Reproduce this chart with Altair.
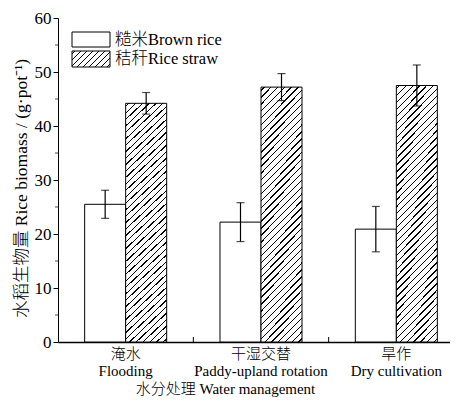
import altair as alt
import pandas as pd

# ---------------- data ----------------
groups_cn = ["淹水", "干湿交替", "旱作"]
groups_en = ["Flooding", "Paddy-upland rotation", "Dry cultivation"]
series = ["糙米Brown rice", "秸秆Rice straw"]
brown_mean = [25.5, 22.2, 20.9]
brown_err = [2.6, 3.6, 4.2]
straw_mean = [44.2, 47.2, 47.5]
straw_err = [2.0, 2.5, 3.8]
y_major = [0, 10, 20, 30, 40, 50, 60]
y_minor = [5, 15, 25, 35, 45, 55]
x_title = "水分处理 Water management"
y_title = "水稻生物量 Rice biomass / (g·pot⁻¹)"

FONT = "'Liberation Serif', 'Noto Sans CJK SC'"

groups = [f"{c}|{e}" for c, e in zip(groups_cn, groups_en)]
rows = []
for i, g in enumerate(groups):
    rows.append(dict(group=g, series=series[0], mean=brown_mean[i],
                     lo=brown_mean[i] - brown_err[i], hi=brown_mean[i] + brown_err[i]))
    rows.append(dict(group=g, series=series[1], mean=straw_mean[i],
                     lo=straw_mean[i] - straw_err[i], hi=straw_mean[i] + straw_err[i]))
df = pd.DataFrame(rows)


def hatch(w, h, n, frac=0.2):
    gx, gy = 1.0 / h, 1.0 / w
    t = (gx + gy) / (gx * gx + gy * gy)
    stops = [alt.GradientStop(offset=0, color="white")]
    for i in range(n):
        a = (i + 0.4) / n
        b = (i + 0.4 + frac) / n
        if b > 1:
            break
        stops += [alt.GradientStop(offset=a, color="white"),
                  alt.GradientStop(offset=a, color="black"),
                  alt.GradientStop(offset=b, color="black"),
                  alt.GradientStop(offset=b, color="white")]
    stops.append(alt.GradientStop(offset=1, color="white"))
    return alt.LinearGradient(gradient="linear", x1=0, y1=0,
                              x2=t * gx, y2=t * gy, stops=stops)


xscale = alt.Scale(domain=groups, paddingInner=0, paddingOuter=0, range=[0, 406])
oscale = alt.Scale(domain=series, paddingInner=0, paddingOuter=0.65)
yscale = alt.Scale(domain=[0, 60], nice=False, zero=True)

xaxis = alt.Axis(title=x_title, labelExpr="split(datum.label, '|')", labelAngle=0,
                 ticks=False, domainWidth=1.5, domainColor="black",
                 labelFont=FONT, labelFontSize=15, labelFontWeight=300,
                 labelLineHeight=17, labelPadding=4,
                 labelColor="black", titleFont=FONT, titleFontSize=15,
                 titleFontWeight=300, titleColor="black",
                 titleX=167, titleY=51, titleAlign="center", titleBaseline="alphabetic")
yaxis = alt.Axis(values=y_major, title=y_title, tickSize=5, tickColor="black",
                 domainColor="black", grid=False, labelFont=FONT, labelFontSize=17,
                 labelColor="black", labelPadding=2, titleFont=FONT, titleFontSize=17.5,
                 titleFontWeight=300, titleColor="black", titleX=-37, titleY=170,
                 titleAngle=270, titleAlign="center", titleBaseline="middle")

X = alt.X("group:N", scale=xscale, axis=xaxis)
XO = alt.XOffset("series:N", scale=oscale)

base = alt.Chart(df)

brown = base.transform_filter(alt.datum.series == series[0]).mark_bar(
    fill="white", stroke="black", strokeWidth=1).encode(
    x=X, xOffset=XO, y=alt.Y("mean:Q", scale=yscale, axis=yaxis))

straw = base.transform_filter(alt.datum.series == series[1]).mark_bar(
    fill=hatch(41, 250, 43), stroke="black", strokeWidth=1).encode(
    x=X, xOffset=XO, y=alt.Y("mean:Q", scale=yscale, axis=yaxis))

err = base.mark_rule(color="black", strokeWidth=1.2).encode(
    x=X, xOffset=XO, y=alt.Y("lo:Q", scale=yscale, axis=yaxis), y2="hi:Q")

caps = base.transform_fold(["lo", "hi"], as_=["k", "v"]).mark_tick(
    orient="horizontal", size=8, thickness=1.2, color="black").encode(
    x=X, xOffset=XO, y=alt.Y("v:Q", scale=yscale, axis=yaxis))

minor = alt.Chart(pd.DataFrame({"m": y_minor})).mark_tick(
    orient="horizontal", size=3, thickness=1, color="black").encode(
    x=alt.value(-1.5), y=alt.Y("m:Q", scale=yscale, axis=yaxis))

bticks = alt.Chart(pd.DataFrame({"group": groups[1:]})).mark_rule(
    color="black", strokeWidth=1).encode(
    x=alt.X("group:N", scale=xscale, axis=xaxis, bandPosition=0),
    y=alt.value(324), y2=alt.value(319))

leg1_box = alt.Chart(alt.Data(values=[{"s": series[0]}])).mark_rect(
    fill="white", stroke="black", strokeWidth=1).encode(
    x=alt.value(14), x2=alt.value(52), y=alt.value(14), y2=alt.value(29))
leg2_box = alt.Chart(alt.Data(values=[{"s": series[1]}])).mark_rect(
    fill=hatch(38, 16, 9), stroke="black", strokeWidth=1).encode(
    x=alt.value(14), x2=alt.value(52), y=alt.value(33), y2=alt.value(49))
leg1_txt = alt.Chart(alt.Data(values=[{"s": series[0]}])).mark_text(
    align="left", baseline="middle", font=FONT, fontSize=16.5, fontWeight=300,
    color="black").encode(x=alt.value(57), y=alt.value(22), text="s:N")
leg2_txt = alt.Chart(alt.Data(values=[{"s": series[1]}])).mark_text(
    align="left", baseline="middle", font=FONT, fontSize=16.5, fontWeight=300,
    color="black").encode(x=alt.value(57), y=alt.value(41), text="s:N")

chart = alt.layer(brown, straw, err, caps, minor, bticks,
                  leg1_box, leg2_box, leg1_txt, leg2_txt).properties(
    width=392, height=324, autosize="none",
    padding={"left": 50, "top": 10, "right": 0, "bottom": 55},
    background="white",
).configure_view(stroke=None)

chart.save("out.html", embed_options={"renderer": "svg", "actions": False})
